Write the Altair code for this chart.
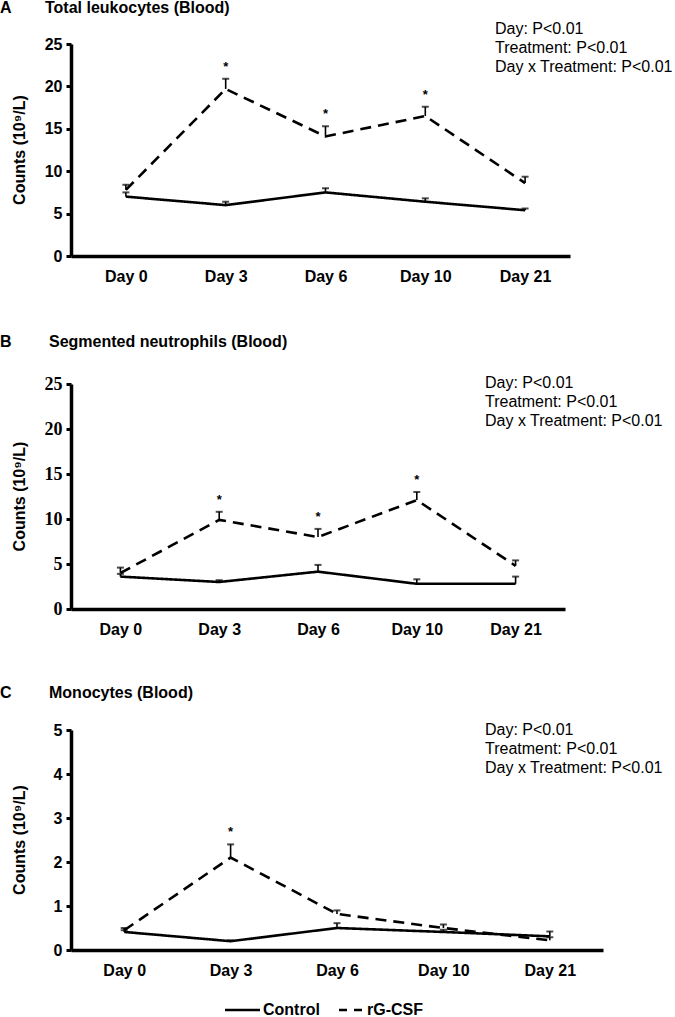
import altair as alt
import pandas as pd

DAYS = ["Day 0", "Day 3", "Day 6", "Day 10", "Day 21"]
GROUPS = ["Control", "rG-CSF"]
ANNOTATION = ["Day: P<0.01", "Treatment: P<0.01", "Day x Treatment: P<0.01"]
Y_TITLE = "Counts (10\u2079/L)"

# Panel A: Total leukocytes (Blood)
A_CONTROL = [7.0, 6.0, 7.5, 6.4, 5.4]
A_CONTROL_TOP = [7.5, 6.4, 8.0, 6.8, 5.6]
A_RG = [7.8, 19.7, 14.1, 16.5, 8.6]
A_RG_TOP = [8.4, 20.9, 15.3, 17.6, 9.35]
A_STARS = ["", "*", "*", "*", ""]

# Panel B: Segmented neutrophils (Blood)
B_CONTROL = [3.6, 3.0, 4.15, 2.8, 2.8]
B_CONTROL_TOP = [3.9, 3.2, 4.9, 3.3, 3.6]
B_RG = [4.0, 9.9, 8.0, 12.1, 4.8]
B_RG_TOP = [4.6, 10.8, 8.9, 13.0, 5.4]
B_STARS = ["", "*", "*", "*", ""]

# Panel C: Monocytes (Blood)
C_CONTROL = [0.41, 0.2, 0.5, 0.41, 0.31]
C_CONTROL_TOP = [0.45, 0.22, 0.61, 0.46, 0.42]
C_RG = [0.45, 2.1, 0.82, 0.5, 0.22]
C_RG_TOP = [0.5, 2.4, 0.9, 0.58, 0.29]
C_STARS = ["", "*", "", "", ""]

SANS = "Liberation Sans"
SERIF = "Liberation Serif"
ONE = pd.DataFrame({"k": [0]})


def make_panel(letter, title, ctrl, ctrl_top, rg, rg_top, stars, ymax, ystep,
               width, height, tick_font, tick_size, title_y, title_x,
               ann_x, ann_y, x_align=0.5, spacer=None, legend=False):
    rows = []
    for i, d in enumerate(DAYS):
        rows.append(dict(day=d, group="Control", mean=ctrl[i], top=ctrl_top[i], star=""))
        rows.append(dict(day=d, group="rG-CSF", mean=rg[i], top=rg_top[i], star=stars[i]))
    df = pd.DataFrame(rows)

    xaxis = alt.Axis(title=None, ticks=False, labelAngle=0, labelPadding=12,
                     labelFont=SANS, labelFontSize=16, labelFontWeight="bold",
                     labelColor="black", domainWidth=3.5, domainColor="black")
    yaxis = alt.Axis(title=None, values=list(range(0, ymax + 1, ystep)),
                     tickSize=5, tickWidth=3, tickColor="black", domainWidth=3.5,
                     domainColor="black", labelPadding=4, grid=False,
                     labelFont=tick_font, labelFontSize=tick_size,
                     labelFontWeight="bold", labelColor="black")
    xs = alt.Scale(type="point", padding=0.5, align=x_align)
    ys = alt.Scale(domain=[0, ymax], nice=False)

    def X():
        return alt.X("day:N", sort=DAYS, scale=xs, axis=xaxis)

    def Y(field):
        return alt.Y(field, scale=ys, axis=yaxis)

    base = alt.Chart(df)
    lines = base.mark_line(color="black", strokeWidth=2.6).encode(
        x=X(), y=Y("mean:Q"),
        strokeDash=alt.StrokeDash("group:N", scale=alt.Scale(domain=GROUPS, range=[[1, 0], [11, 7]]), legend=None),
        detail="group:N",
    )
    stems = base.mark_rule(color="black", strokeWidth=1.6).encode(
        x=X(), y=Y("mean:Q"), y2="top:Q")
    caps = base.mark_tick(color="black", thickness=2, size=7).encode(
        x=X(), y=Y("top:Q"))
    star_text = base.transform_filter(alt.datum.star != "").mark_text(
        dy=-12, fontSize=13, fontWeight="bold", font=SANS, color="black").encode(
        x=X(), y=Y("top:Q"), text="star:N")

    t = alt.Chart(ONE)
    letter_mark = t.mark_text(align="left", baseline="middle", fontSize=16,
                              fontWeight="bold", font=SANS, color="black").encode(
        x=alt.value(-71), y=alt.value(title_y), text=alt.value(letter))
    title_mark = t.mark_text(align="left", baseline="middle", fontSize=16,
                             fontWeight="bold", font=SANS, color="black").encode(
        x=alt.value(title_x), y=alt.value(title_y), text=alt.value(title))
    ytitle = t.mark_text(align="center", baseline="middle", fontSize=16, angle=270,
                         fontWeight="bold", font=SANS, color="black").encode(
        x=alt.value(-51), y=alt.value(height / 2), text=alt.value(Y_TITLE))
    ann = t.mark_text(align="left", baseline="top", fontSize=16, lineBreak="\n",
                      lineHeight=19, font=SANS, color="black").encode(
        x=alt.value(ann_x), y=alt.value(ann_y), text=alt.value("\n".join(ANNOTATION)))

    layers = [lines, stems, caps, star_text, letter_mark, title_mark, ytitle, ann]
    if spacer is not None:
        layers.append(t.mark_text(opacity=0, fontSize=16, baseline="middle").encode(
            x=alt.value(0), y=alt.value(height + spacer), text=alt.value(".")))
    if legend:
        ly = height + 60
        layers += [
            t.mark_rule(color="black", strokeWidth=2.6).encode(
                x=alt.value(154), x2=alt.value(189), y=alt.value(ly)),
            t.mark_text(align="left", baseline="middle", fontSize=16, fontWeight="bold",
                        font=SANS, color="black").encode(
                x=alt.value(192), y=alt.value(ly), text=alt.value(GROUPS[0])),
            t.mark_rule(color="black", strokeWidth=2.6, strokeDash=[8, 7]).encode(
                x=alt.value(268), x2=alt.value(291), y=alt.value(ly)),
            t.mark_text(align="left", baseline="middle", fontSize=16, fontWeight="bold",
                        font=SANS, color="black").encode(
                x=alt.value(296), y=alt.value(ly), text=alt.value(GROUPS[1])),
        ]
    return alt.layer(*layers).properties(width=width, height=height)


pa = make_panel("A", "Total leukocytes (Blood)", A_CONTROL, A_CONTROL_TOP, A_RG, A_RG_TOP,
                A_STARS, 25, 5, 499, 212, SANS, 16, -36, -26, 424, -23,
                x_align=0.55, spacer=22)
pb = make_panel("B", "Segmented neutrophils (Blood)", B_CONTROL, B_CONTROL_TOP, B_RG, B_RG_TOP,
                B_STARS, 25, 5, 494, 225, SERIF, 18, -42, -22, 414, -9)
pc = make_panel("C", "Monocytes (Blood)", C_CONTROL, C_CONTROL_TOP, C_RG, C_RG_TOP,
                C_STARS, 5, 1, 532, 220, SANS, 16, -37, -22, 414, -8, legend=True)

chart = alt.vconcat(pa, pb, pc, spacing=48).properties(
    padding={"left": 0, "top": 0, "right": 0, "bottom": 0}
).configure_view(stroke=None)

chart.save("out.html", embed_options={"renderer": "svg", "actions": False})
